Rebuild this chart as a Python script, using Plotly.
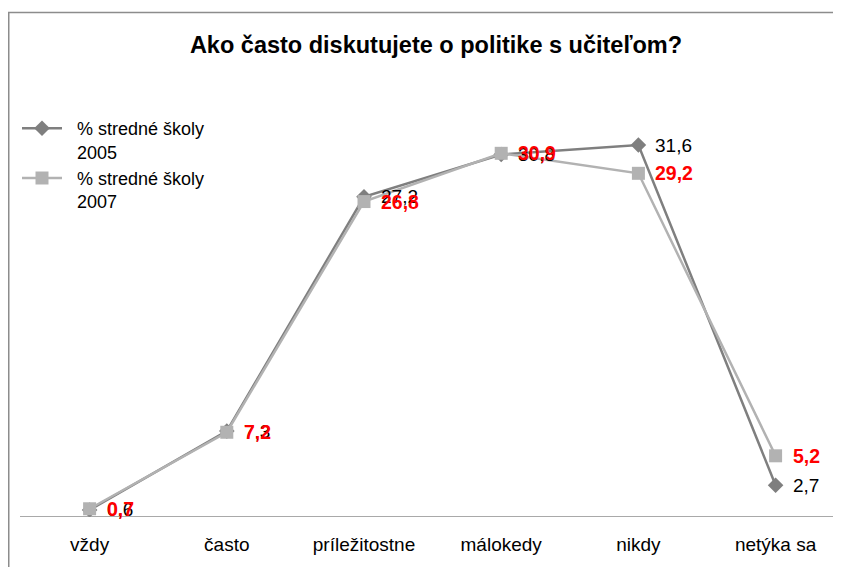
import plotly.graph_objects as go

categories = ["vždy", "často", "príležitostne", "málokedy", "nikdy", "netýka sa"]
values_2005 = [0.6, 7.3, 27.2, 30.8, 31.6, 2.7]
values_2007 = [0.7, 7.2, 26.8, 30.9, 29.2, 5.2]
name_2005 = "\u00a0\u00a0% stredné školy<br>\u00a0\u00a02005"
name_2007 = "\u00a0\u00a0% stredné školy<br>\u00a0\u00a02007"
title = "Ako často diskutujete o politike s učiteľom?"

# page body has an 8px margin -> figure is 833x559 inside the 841x567 window
W, H = 833, 559
ml, mr, mt, mb = 13, 0, 97, 50
pw = W - ml - mr
ph = H - mt - mb
FONT = "Liberation Sans, Arial, sans-serif"

def fmt(v):
    return f"{v:.1f}".replace(".", ",")

fig = go.Figure()
fig.add_trace(go.Scatter(
    x=categories, y=values_2005, name=name_2005, mode="lines+markers",
    line=dict(color="#7f7f7f", width=2.5),
    marker=dict(symbol="diamond", size=12, color="#7f7f7f"),
))
fig.add_trace(go.Scatter(
    x=categories, y=values_2007, name=name_2007, mode="lines+markers",
    line=dict(color="#b2b2b2", width=2.5),
    marker=dict(symbol="square", size=13, color="#b2b2b2"),
))

annotations = []
for c, v in zip(categories, values_2005):
    annotations.append(dict(x=c, y=v, xref="x", yref="y", text=fmt(v), showarrow=False,
                            xanchor="left", yanchor="middle", xshift=15,
                            font=dict(family=FONT, size=19, color="black")))
for c, v in zip(categories, values_2007):
    annotations.append(dict(x=c, y=v, xref="x", yref="y", text="<b>" + fmt(v) + "</b>", showarrow=False,
                            xanchor="left", yanchor="middle", xshift=15,
                            font=dict(family=FONT, size=19.5, color="#ff0000")))

fig.update_layout(
    width=W, height=H,
    margin=dict(l=ml, r=mr, t=mt, b=mb),
    paper_bgcolor="white", plot_bgcolor="white",
    font=dict(family=FONT, size=19, color="black"),
    title=dict(text="<b>" + title + "</b>", x=428 / W, xref="container", xanchor="center",
               y=1 - 37 / H, yref="container", yanchor="middle",
               font=dict(size=23.5, color="black")),
    showlegend=True,
    legend=dict(x=(9 - ml) / pw, y=(509 - 102) / ph, xanchor="left", yanchor="top",
                bgcolor="rgba(0,0,0,0)", itemwidth=40, valign="top",
                font=dict(size=18, color="black")),
    annotations=annotations,
    xaxis=dict(range=[-0.5, -0.5 + pw / 137.2], showgrid=False, zeroline=False,
               showline=False, ticks="", ticklabelstandoff=14,
               tickfont=dict(size=19, color="black")),
    yaxis=dict(range=[0, ph / 11.77], visible=False, showgrid=False, zeroline=False),
    shapes=[
        dict(type="line", xref="paper", yref="y", x0=(12 - ml) / pw, x1=1.0, y0=0, y1=0,
             line=dict(color="#8c8c8c", width=1.5)),
        dict(type="rect", xref="paper", yref="paper",
             x0=(0.75 - ml) / pw, x1=1.2, y0=(509 - 4.5) / ph, y1=-0.3,
             line=dict(color="#8c8c8c", width=1.5), fillcolor="rgba(0,0,0,0)", layer="below"),
    ],
)

fig.write_html("out.html")
